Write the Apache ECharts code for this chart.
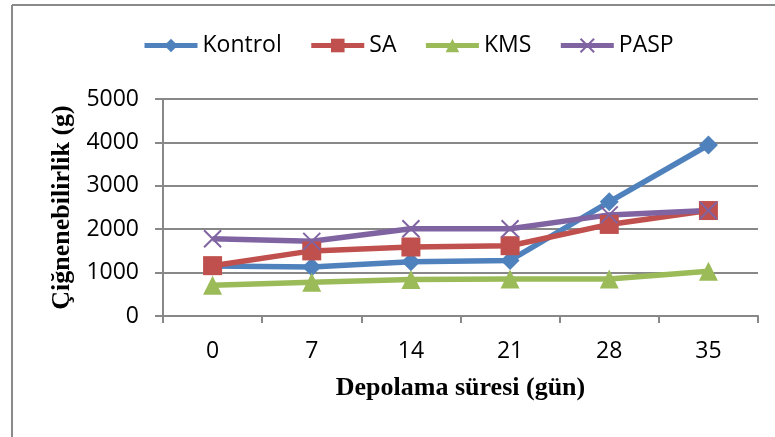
<!DOCTYPE html>
<html>
<head>
<meta charset="utf-8">
<script src="https://cdn.jsdelivr.net/npm/echarts@6/dist/echarts.min.js"></script>
<style>
html,body{margin:0;padding:0;background:#fff;}
#c{width:775px;height:437px;}
</style>
</head>
<body>
<div id="c"></div>
<script>
const categories = ['0', '7', '14', '21', '28', '35'];
const kontrol = [1150, 1130, 1250, 1280, 2630, 3940];
const sa = [1160, 1500, 1590, 1620, 2110, 2430];
const kms = [710, 780, 840, 850, 850, 1030];
const pasp = [1780, 1720, 2010, 2010, 2330, 2430];
const seriesNames = ['Kontrol', 'SA', 'KMS', 'PASP'];
const yTicks = { min: 0, max: 5000, interval: 1000 };
const xTitle = 'Depolama süresi (gün)';
const yTitle = 'Çiğnenebilirlik (g)';

const colors = ['#4F81BD', '#C0504D', '#9BBB59', '#8064A2'];
const symbols = ['diamond', 'rect', 'triangle', 'path://M0,0L10,10M10,0L0,10'];
const sizes = [19, 19, 19, 17];
const dataSets = [kontrol, sa, kms, pasp];
const sansFont = '"Open Sans", "Liberation Sans", sans-serif';
const serifFont = '"Liberation Serif", "DejaVu Serif", serif';
const gridColor = '#888888';

const chart = echarts.init(document.getElementById('c'), null, { renderer: 'canvas' });

const series = seriesNames.map((name, i) => {
  const isX = i === 3;
  return {
    name: name,
    type: 'line',
    data: dataSets[i],
    symbol: symbols[i],
    symbolSize: sizes[i],
    showAllSymbol: true,
    lineStyle: { color: colors[i], width: 5.5 },
    itemStyle: isX
      ? { color: 'rgba(0,0,0,0)', borderColor: colors[i], borderWidth: 2 }
      : { color: colors[i], borderColor: colors[i], borderWidth: 0 },
    emphasis: { disabled: true },
    animation: false
  };
});

chart.setOption({
  animation: false,
  backgroundColor: '#ffffff',
  graphic: [
    { type: 'line', shape: { x1: 12, y1: 5, x2: 12, y2: 437 }, style: { stroke: '#8a8a8a', lineWidth: 2 } },
    { type: 'line', shape: { x1: 12, y1: 5, x2: 775, y2: 5 }, style: { stroke: '#8a8a8a', lineWidth: 2 } }
  ],
  legend: {
    data: seriesNames,
    left: 137,
    top: 29,
    itemWidth: 53,
    itemHeight: 17,
    itemGap: 27,
    lineStyle: { width: 5 },
    textStyle: { fontFamily: sansFont, fontSize: 23, color: '#000' }
  },
  grid: { left: 163, right: 17, top: 99, bottom: 121, containLabel: false },
  xAxis: {
    type: 'category',
    data: categories,
    boundaryGap: true,
    name: xTitle,
    nameLocation: 'middle',
    nameGap: 59,
    nameTextStyle: { fontFamily: serifFont, fontWeight: 'bold', fontSize: 26, color: '#000' },
    axisLine: { lineStyle: { color: gridColor, width: 2 } },
    axisTick: { show: true, length: 7, alignWithLabel: false, lineStyle: { color: gridColor, width: 2 } },
    axisLabel: { fontFamily: sansFont, fontSize: 23, color: '#000', margin: 24 },
    splitLine: { show: false }
  },
  yAxis: {
    type: 'value',
    min: yTicks.min,
    max: yTicks.max,
    interval: yTicks.interval,
    name: yTitle,
    nameLocation: 'middle',
    nameGap: 74,
    nameTextStyle: { fontFamily: serifFont, fontWeight: 'bold', fontSize: 26, color: '#000' },
    axisLine: { show: true, lineStyle: { color: gridColor, width: 2 } },
    axisTick: { show: true, length: 8, lineStyle: { color: gridColor, width: 2 } },
    axisLabel: { fontFamily: sansFont, fontSize: 23, color: '#000', margin: 24, formatter: (v) => String(v) },
    splitLine: { show: true, lineStyle: { color: gridColor, width: 2 } }
  },
  series: series
});
</script>
</body>
</html>
